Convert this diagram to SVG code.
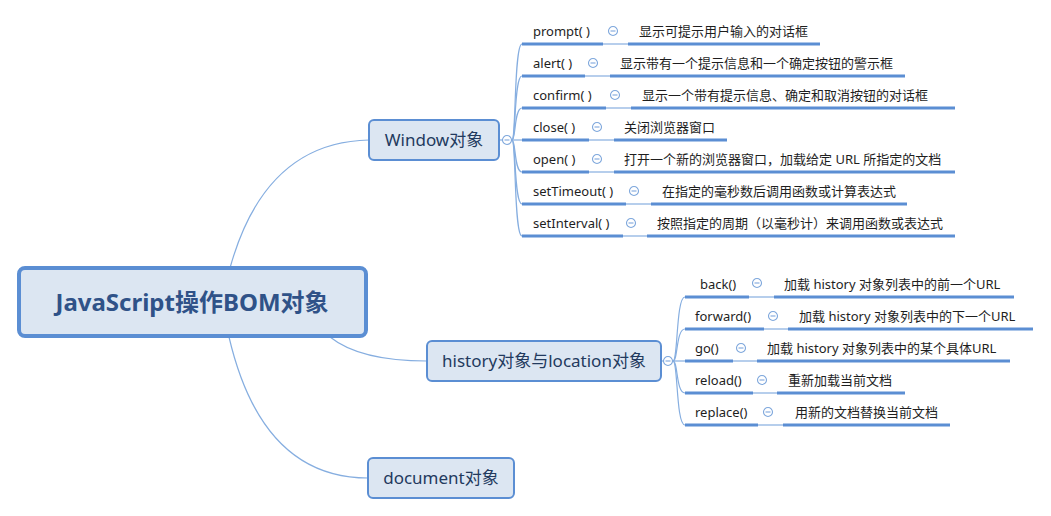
<svg xmlns="http://www.w3.org/2000/svg" width="1051" height="516" viewBox="0 0 1051 516">
<style>
.bg{fill:#ffffff}
.conn{fill:none;stroke:#86aee0;stroke-width:1.2}
.thick{stroke:#5b8ed3;stroke-width:3;fill:none}
.thin{stroke:#86aee0;stroke-width:1.2;fill:none}
.node{fill:#dce6f2;stroke:#5b8ed3;stroke-width:2}
.root{fill:#dce6f2;stroke:#5b8ed3;stroke-width:4}
.t{font-family:"Noto Sans","Noto Sans CJK SC",sans-serif;fill:#1e1e1e}
.lbl{font-size:13px}
.nt{font-size:17px;fill:#233a5e;text-anchor:middle}
.rt{font-size:24px;font-weight:bold;fill:#2f5288;text-anchor:middle}
.ic{fill:#ffffff;stroke:#7ea7dc;stroke-width:1.1}
.icl{stroke:#7ea7dc;stroke-width:1.1}
</style>
<defs>
<g id="minus"><circle class="ic" cx="0" cy="0" r="4.5"/><line class="icl" x1="-2.5" y1="0" x2="2.5" y2="0"/></g>
</defs>
<rect class="bg" x="0" y="0" width="1051" height="516"/>
<g id="connectors">
<path class="conn" d="M230 268 Q265 142 369 140"/>
<path class="conn" d="M330 337 Q360 361 427 361"/>
<path class="conn" d="M229 337 Q262 478 368 478"/>
<line class="conn" x1="499" y1="140" x2="512" y2="140"/>
<path class="conn" d="M512 140 C516 140 514 44 522 44"/>
<path class="conn" d="M512 140 C516 140 514 76 522 76"/>
<path class="conn" d="M512 140 C516 140 514 108 522 108"/>
<path class="conn" d="M512 140 L522 140"/>
<path class="conn" d="M512 140 C516 140 514 172 522 172"/>
<path class="conn" d="M512 140 C516 140 514 204 522 204"/>
<path class="conn" d="M512 140 C516 140 514 236 522 236"/>
<line class="conn" x1="661" y1="361" x2="673" y2="361"/>
<path class="conn" d="M673 361 C678 361 676 297 685 297"/>
<path class="conn" d="M673 361 C678 361 676 329 685 329"/>
<path class="conn" d="M673 361 L685 361"/>
<path class="conn" d="M673 361 C678 361 676 393 685 393"/>
<path class="conn" d="M673 361 C678 361 676 425 685 425"/>
</g>
<g id="root">
<rect class="root" x="19" y="268" width="347" height="68" rx="6"/>
<text class="t rt" x="192" y="311">JavaScript操作BOM对象</text>
</g>
<g id="window">
<rect class="node" x="369" y="120" width="130" height="40" rx="5"/>
<text class="t nt" x="434" y="146">Window对象</text>
<use href="#minus" x="507" y="140"/>
</g>
<g id="history">
<rect class="node" x="427" y="341" width="234" height="40" rx="5"/>
<text class="t nt" x="544" y="367">history对象与location对象</text>
<use href="#minus" x="668" y="361"/>
</g>
<g id="document">
<rect class="node" x="368" y="458" width="146" height="40" rx="5"/>
<text class="t nt" x="441" y="484">document对象</text>
</g>
<g id="w-prompt">
<line class="thick" x1="522" y1="44" x2="603" y2="44"/><line class="thin" x1="603" y1="44" x2="628" y2="44"/><line class="thick" x1="628" y1="44" x2="820" y2="44"/>
<text class="t lbl" x="533" y="36">prompt( )</text><use href="#minus" x="613" y="31"/>
<text class="t lbl" x="639" y="36">显示可提示用户输入的对话框</text>
</g>
<g id="w-alert">
<line class="thick" x1="522" y1="76" x2="585" y2="76"/><line class="thin" x1="585" y1="76" x2="610" y2="76"/><line class="thick" x1="610" y1="76" x2="905" y2="76"/>
<text class="t lbl" x="533" y="68">alert( )</text><use href="#minus" x="593" y="63"/>
<text class="t lbl" x="620" y="68">显示带有一个提示信息和一个确定按钮的警示框</text>
</g>
<g id="w-confirm">
<line class="thick" x1="522" y1="108" x2="606" y2="108"/><line class="thin" x1="606" y1="108" x2="631" y2="108"/><line class="thick" x1="631" y1="108" x2="955" y2="108"/>
<text class="t lbl" x="533" y="100">confirm( )</text><use href="#minus" x="615" y="95"/>
<text class="t lbl" x="642" y="100">显示一个带有提示信息、确定和取消按钮的对话框</text>
</g>
<g id="w-close">
<line class="thick" x1="522" y1="140" x2="589" y2="140"/><line class="thin" x1="589" y1="140" x2="614" y2="140"/><line class="thick" x1="614" y1="140" x2="727" y2="140"/>
<text class="t lbl" x="533" y="132">close( )</text><use href="#minus" x="597" y="127"/>
<text class="t lbl" x="624" y="132">关闭浏览器窗口</text>
</g>
<g id="w-open">
<line class="thick" x1="522" y1="172" x2="589" y2="172"/><line class="thin" x1="589" y1="172" x2="614" y2="172"/><line class="thick" x1="614" y1="172" x2="955" y2="172"/>
<text class="t lbl" x="533" y="164">open( )</text><use href="#minus" x="597" y="159"/>
<text class="t lbl" x="624" y="164">打开一个新的浏览器窗口，加载给定 URL 所指定的文档</text>
</g>
<g id="w-settimeout">
<line class="thick" x1="522" y1="204" x2="626" y2="204"/><line class="thin" x1="626" y1="204" x2="651" y2="204"/><line class="thick" x1="651" y1="204" x2="907" y2="204"/>
<text class="t lbl" x="533" y="196">setTimeout( )</text><use href="#minus" x="634" y="191"/>
<text class="t lbl" x="662" y="196">在指定的毫秒数后调用函数或计算表达式</text>
</g>
<g id="w-setinterval">
<line class="thick" x1="522" y1="236" x2="623" y2="236"/><line class="thin" x1="623" y1="236" x2="647" y2="236"/><line class="thick" x1="647" y1="236" x2="955" y2="236"/>
<text class="t lbl" x="533" y="228">setInterval( )</text><use href="#minus" x="631" y="223"/>
<text class="t lbl" x="657" y="228">按照指定的周期（以毫秒计）来调用函数或表达式</text>
</g>
<g id="h-back">
<line class="thick" x1="685" y1="297" x2="749" y2="297"/><line class="thin" x1="749" y1="297" x2="774" y2="297"/><line class="thick" x1="774" y1="297" x2="1014" y2="297"/>
<text class="t lbl" x="700" y="289">back()</text><use href="#minus" x="757" y="283"/>
<text class="t lbl" x="784" y="289">加载 history 对象列表中的前一个URL</text>
</g>
<g id="h-forward">
<line class="thick" x1="685" y1="329" x2="764" y2="329"/><line class="thin" x1="764" y1="329" x2="788" y2="329"/><line class="thick" x1="788" y1="329" x2="1033" y2="329"/>
<text class="t lbl" x="695" y="321">forward()</text><use href="#minus" x="773" y="316"/>
<text class="t lbl" x="799" y="321">加载 history 对象列表中的下一个URL</text>
</g>
<g id="h-go">
<line class="thick" x1="685" y1="361" x2="733" y2="361"/><line class="thin" x1="733" y1="361" x2="757" y2="361"/><line class="thick" x1="757" y1="361" x2="1010" y2="361"/>
<text class="t lbl" x="695" y="353">go()</text><use href="#minus" x="741" y="348"/>
<text class="t lbl" x="767" y="353">加载 history 对象列表中的某个具体URL</text>
</g>
<g id="h-reload">
<line class="thick" x1="685" y1="393" x2="753" y2="393"/><line class="thin" x1="753" y1="393" x2="777" y2="393"/><line class="thick" x1="777" y1="393" x2="905" y2="393"/>
<text class="t lbl" x="695" y="385">reload()</text><use href="#minus" x="762" y="380"/>
<text class="t lbl" x="788" y="385">重新加载当前文档</text>
</g>
<g id="h-replace">
<line class="thick" x1="685" y1="425" x2="758" y2="425"/><line class="thin" x1="758" y1="425" x2="783" y2="425"/><line class="thick" x1="783" y1="425" x2="950" y2="425"/>
<text class="t lbl" x="695" y="417">replace()</text><use href="#minus" x="768" y="412"/>
<text class="t lbl" x="795" y="417">用新的文档替换当前文档</text>
</g>
</svg>
